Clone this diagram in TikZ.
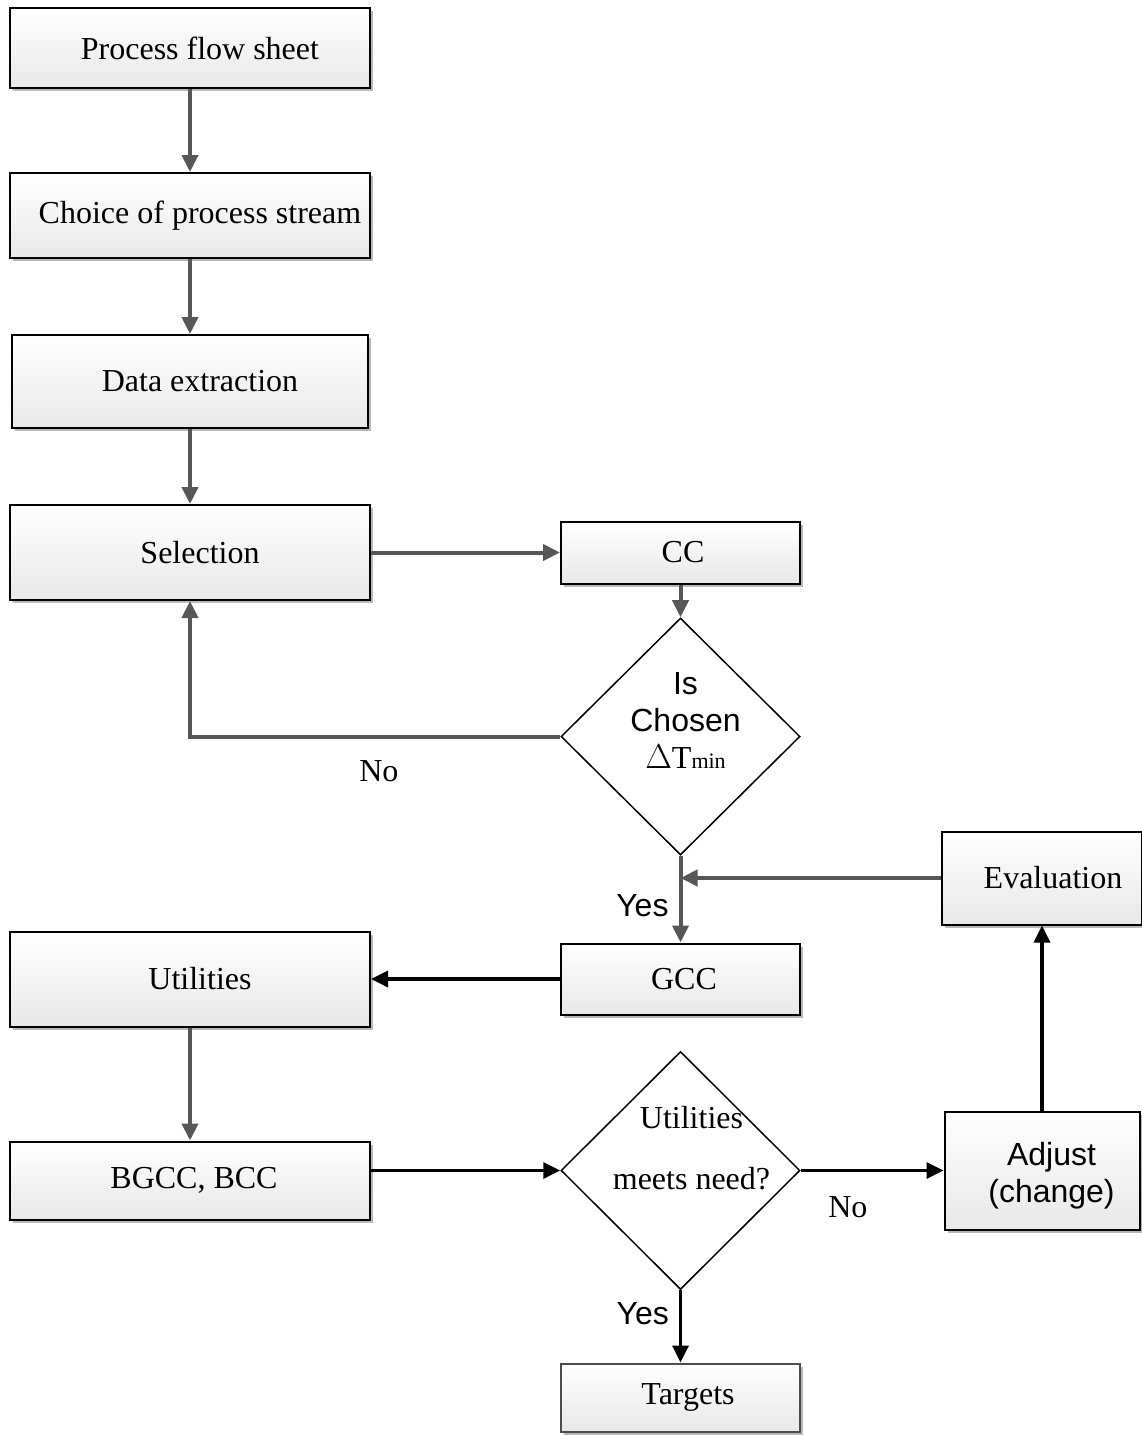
\documentclass[tikz,border=0pt]{standalone}
\usepackage{fontspec}
\setmainfont{Liberation Serif}
\setsansfont{Liberation Sans}
\usetikzlibrary{positioning, shapes.geometric, arrows.meta, shadows}

\begin{document}
\begin{tikzpicture}[
    >={Triangle[length=8.5pt,width=8pt]},
    on grid,
    font=\fontsize{16}{18.5}\selectfont,
    box/.style={
        draw=black,
        line width=1pt,
        top color=white,
        bottom color=black!9,
        drop shadow={shadow xshift=1.5pt, shadow yshift=-1.5pt,
                     fill=black!28, opacity=1},
        inner sep=0pt,
        minimum width=#1
    },
    box/.default=180pt,
    nudge/.style={execute at begin node={\hspace*{#1}}},
    nudge/.default=10pt,
    decision/.style={
        draw,
        diamond,
        line width=0.75pt,
        fill=white,
        inner sep=0pt,
        minimum width=119.5pt,
        minimum height=118.5pt
    },
    lab/.style={inner sep=2pt},
    garrow/.style={->, draw=black!66, line width=2pt},
    barrow/.style={->, draw=black, line width=1.7pt}
]
\useasboundingbox (0,0) rectangle (570.5pt,-717.5pt);

% left column
\node[box, nudge, minimum height=40pt] (flow) at (95pt,-24pt) {Process flow sheet};
\node[box, nudge, minimum height=42.5pt, below=83.75pt of flow] (choice) {Choice of process stream};
\node[box=178pt, nudge, minimum height=46.5pt, below=83pt of choice] (extract) {Data extraction};
\node[box, nudge, minimum height=47.5pt, below=85.5pt of extract] (select) {Selection};

% middle column
\node[box=119.5pt, nudge=2.5pt, minimum height=31pt, right=245.25pt of select] (cc) {CC};
\node[decision, below=92pt of cc] (dtmin) {};
\node[align=center, inner sep=0pt] (dtmintxt) at ([xshift=2.5pt,yshift=8pt]dtmin.center)
    {\sffamily Is\\ \sffamily Chosen\\ $\Delta$T{\fontsize{11}{12}\selectfont min}};
\node[box=119.5pt, nudge=3.5pt, minimum height=35.5pt, below=121.25pt of dtmin] (gcc) {GCC};
\node[box, nudge, minimum height=47.5pt, left=245.25pt of gcc] (util) {Utilities};
\node[box, nudge=4pt, minimum height=39pt, below=100.75pt of util] (bgcc) {BGCC, BCC};
\node[decision, minimum height=119pt, below=95.75pt of gcc] (meets) {};
\node[align=center, inner sep=0pt] (meetstxt) at ([xshift=5.5pt,yshift=11pt]meets.center)
    {Utilities\\[12pt] meets need?};
\node[box=119.5pt, nudge=7.5pt, minimum height=34pt, draw=black!70, below=113.5pt of meets] (target) {Targets};

% right column
\node[box=97.5pt, minimum height=59pt, right=180.75pt of meets] (adjust)
    {\hspace*{9.5pt}\raisebox{-7.5pt}[0pt][0pt]{\sffamily\begin{tabular}{@{}c@{}}Adjust\\(change)\end{tabular}}};
\node[box=100pt, nudge=11pt, minimum height=46.5pt, above=146.25pt of adjust] (eval) {Evaluation};

% gray connectors
\draw[garrow] (flow) -- (choice);
\draw[garrow] (choice) -- (extract);
\draw[garrow] (extract) -- (select);
\draw[garrow] (select) -- (cc);
\draw[garrow] (cc) -- (dtmin);
\draw[garrow] (dtmin.west) -| node[lab, pos=0.245, below=9pt] (no1) {No} (select.south);
\draw[garrow] (dtmin) -- node[lab, pos=0.58, left=3pt] (yes1) {\sffamily Yes} (gcc);
\draw[garrow] (eval) -- (eval -| dtmin);
\draw[garrow] (util) -- (bgcc);

% black connectors
\draw[barrow] (gcc) -- (util);
\draw[barrow] (bgcc.east |- meets.west) -- (meets.west);
\draw[barrow] (meets) -- node[lab, pos=0.33, below=10pt] (no2) {No} (adjust);
\draw[barrow] (adjust) -- (eval);
\draw[barrow] (meets) -- node[lab, pos=0.32, left=3pt] (yes2) {\sffamily Yes} (target);

\end{tikzpicture}
\end{document}
